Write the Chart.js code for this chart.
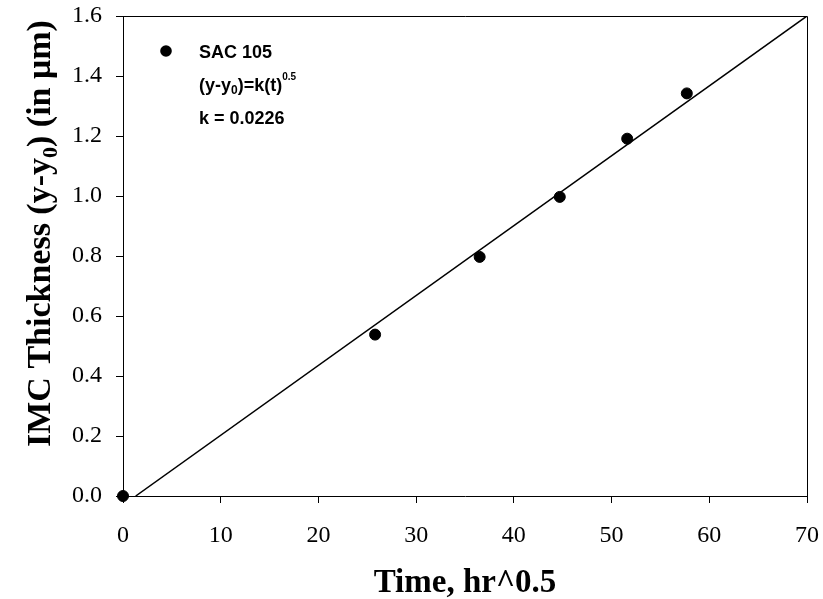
<!DOCTYPE html>
<html>
<head>
<meta charset="utf-8">
<script src="https://cdn.jsdelivr.net/npm/chart.js@4/dist/chart.umd.min.js"></script>
<style>
  body { margin: 0; background: #fff; }
  canvas { display: block; }
</style>
</head>
<body>
<canvas id="chart" width="823" height="599"></canvas>
<script>
// measured points, SAC 105
const timeValues = [0, 25.8, 36.5, 44.7, 51.6, 57.7]
const thicknessValues = [0, 0.538, 0.797, 0.997, 1.191, 1.342]

// fitted line (y-y0)=k(t)^0.5
const fitTime = [1.3, 70]
const fitThickness = [0, 1.6]

const xTickValues = [0, 10, 20, 30, 40, 50, 60, 70]
const yTickValues = [0, 0.2, 0.4, 0.6, 0.8, 1.0, 1.2, 1.4, 1.6]

const serif = '"Liberation Serif", "Times New Roman", serif'
const sans = '"Liberation Sans", Arial, sans-serif'

// draws segments of text in a row, some shifted up/down (sub / superscript)
function drawRuns(ctx, x, y, runs) {
  for (const r of runs) {
    ctx.font = r.font
    ctx.fillText(r.text, x, y + (r.dy || 0))
    x += ctx.measureText(r.text).width
  }
  return x
}

const decorations = {
  id: 'decorations',
  afterDraw(chart) {
    const { ctx, chartArea: a } = chart
    ctx.save()

    // frame: top and right edges
    ctx.strokeStyle = '#000'
    ctx.lineWidth = 1
    ctx.beginPath()
    ctx.moveTo(a.left, a.top + 0.5)
    ctx.lineTo(a.right + 0.5, a.top + 0.5)
    ctx.lineTo(a.right + 0.5, a.bottom)
    ctx.stroke()

    ctx.fillStyle = '#000'
    ctx.textBaseline = 'alphabetic'
    ctx.textAlign = 'left'

    // legend
    ctx.beginPath()
    ctx.arc(166, 51, 5.8, 0, Math.PI * 2)
    ctx.fill()
    const bold = 'bold 18px ' + sans
    const small = 'bold 12px ' + sans
    const tiny = 'bold 10px ' + sans
    drawRuns(ctx, 199, 58, [{ text: 'SAC 105', font: bold }])
    drawRuns(ctx, 199, 91, [
      { text: '(y-y', font: bold },
      { text: '0', font: small, dy: 3 },
      { text: ')=k(t)', font: bold },
      { text: '0.5', font: tiny, dy: -11 }
    ])
    drawRuns(ctx, 199, 124, [{ text: 'k = 0.0226', font: bold }])

    // x axis title
    ctx.font = 'bold 33px ' + serif
    ctx.textAlign = 'center'
    ctx.fillText('Time, hr^0.5', (a.left + a.right) / 2, 592)

    // y axis title, rotated
    ctx.textAlign = 'left'
    ctx.translate(50, 447)
    ctx.rotate(-Math.PI / 2)
    const big = 'bold 34px ' + serif
    const sub = 'bold 22px ' + serif
    drawRuns(ctx, 0, 0, [
      { text: 'IMC Thickness (y-y', font: big },
      { text: '0', font: sub, dy: 7 },
      { text: ') (in \u03bcm)', font: big }
    ])

    ctx.restore()
  }
}

const tickFont = { family: serif, size: 24 }

new Chart(document.getElementById('chart'), {
  type: 'scatter',
  data: {
    datasets: [
      {
        type: 'line',
        data: fitTime.map((t, i) => ({ x: t, y: fitThickness[i] })),
        borderColor: '#000',
        borderWidth: 1.5,
        pointRadius: 0,
        fill: false
      },
      {
        data: timeValues.map((t, i) => ({ x: t, y: thicknessValues[i] })),
        backgroundColor: '#000',
        borderColor: '#000',
        pointRadius: 5.5,
        clip: false
      }
    ]
  },
  options: {
    responsive: false,
    animation: false,
    events: [],
    layout: { padding: { top: 16, right: 16, left: 0, bottom: 0 } },
    plugins: {
      legend: { display: false },
      tooltip: { enabled: false }
    },
    scales: {
      x: {
        type: 'linear',
        min: 0,
        max: 70,
        afterFit: (scale) => {
          scale.height = 103
          scale.paddingLeft = 0
          scale.paddingRight = 0
        },
        afterBuildTicks: (scale) => { scale.ticks = xTickValues.map((v) => ({ value: v })) },
        ticks: { font: tickFont, color: '#000', padding: 18, maxRotation: 0 },
        grid: { drawOnChartArea: false, drawTicks: true, tickLength: 7, color: '#000' },
        border: { color: '#000', width: 1 }
      },
      y: {
        type: 'linear',
        min: 0,
        max: 1.6,
        afterFit: (scale) => {
          scale.width = 123
          scale.paddingTop = 0
          scale.paddingBottom = 0
        },
        afterBuildTicks: (scale) => { scale.ticks = yTickValues.map((v) => ({ value: v })) },
        ticks: {
          font: tickFont,
          color: '#000',
          padding: 14,
          callback: (v) => Number(v).toFixed(1)
        },
        grid: { drawOnChartArea: false, drawTicks: true, tickLength: 7, color: '#000' },
        border: { color: '#000', width: 1 }
      }
    }
  },
  plugins: [decorations]
})
</script>
</body>
</html>
